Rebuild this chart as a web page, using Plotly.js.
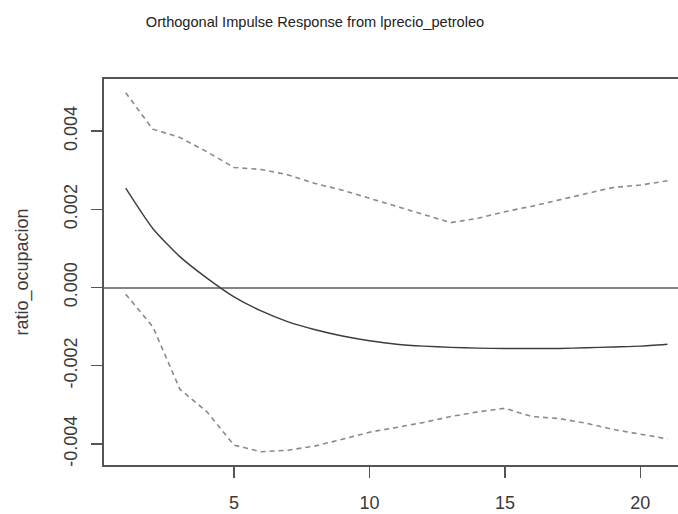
<!DOCTYPE html>
<html>
<head>
<meta charset="utf-8">
<script src="https://cdn.plot.ly/plotly-3.0.1.min.js"></script>
<style>html,body{margin:0;padding:0;background:#fff}#chart{width:678px;height:514px}</style>
</head>
<body>
<div id="chart"></div>
<script>
// Horizon (steps) of the impulse response
const horizon = [1,2,3,4,5,6,7,8,9,10,11,12,13,14,15,16,17,18,19,20,21];
// Orthogonal impulse response of ratio_ocupacion to lprecio_petroleo
const response = [0.00254,0.00151,0.00079,0.00024,-0.00024,-0.00060,-0.00088,-0.00108,-0.00124,-0.00136,-0.00145,-0.00150,-0.00153,-0.00155,-0.00156,-0.00156,-0.00156,-0.00154,-0.00152,-0.00150,-0.00145];
// Upper bootstrap confidence band
const upper = [0.00498,0.00405,0.00384,0.00347,0.00307,0.00302,0.00288,0.00266,0.00249,0.00228,0.00208,0.00187,0.00166,0.00177,0.00194,0.00208,0.00224,0.00239,0.00256,0.00262,0.00273];
// Lower bootstrap confidence band
const lower = [-0.00017,-0.00100,-0.00260,-0.00318,-0.00403,-0.00420,-0.00416,-0.00405,-0.00388,-0.00370,-0.00358,-0.00345,-0.00330,-0.00318,-0.00309,-0.00330,-0.00335,-0.00347,-0.00363,-0.00375,-0.00387];
const xTicks = [5,10,15,20];
const yTicks = [-0.004,-0.002,0,0.002,0.004];
const yTickText = ['-0.004','-0.002','0.000','0.002','0.004'];

const dashStyle = {color:'#8a8a8a', width:1.6, dash:'5px,4px'};
const traces = [
  {x:horizon, y:upper, type:'scatter', mode:'lines', name:'Upper', line:dashStyle, hoverinfo:'x+y'},
  {x:horizon, y:lower, type:'scatter', mode:'lines', name:'Lower', line:dashStyle, hoverinfo:'x+y'},
  {x:horizon, y:response, type:'scatter', mode:'lines', name:'ratio_ocupacion', line:{color:'#3c3c3c', width:1.4, shape:'spline', smoothing:0.6}, hoverinfo:'x+y'}
];
const tickFont = {family:'"Liberation Sans", Arial, sans-serif', size:18, color:'#3a3a3a'};
const layout = {
  width:678, height:514,
  margin:{l:104, r:0, t:79, b:49, pad:0},
  paper_bgcolor:'#ffffff', plot_bgcolor:'#ffffff',
  showlegend:false,
  title:{text:'Orthogonal Impulse Response from lprecio_petroleo',
    font:{family:'"Liberation Sans", Arial, sans-serif', size:14.6, color:'#222'},
    xref:'container', yref:'container', x:315/678, xanchor:'center', y:1-22/514, yanchor:'middle'},
  xaxis:{range:[0.2,21.39], tickvals:xTicks, ticktext:xTicks.map(String), ticks:'outside', ticklen:11, tickwidth:1.5, tickcolor:'#555',
    showline:true, linecolor:'#555', linewidth:1.6, mirror:true, showgrid:false, zeroline:false, tickfont:tickFont, ticklabelstandoff:10},
  yaxis:{range:[-0.004539,0.005333], tickvals:yTicks, ticktext:yTickText, ticks:'outside', ticklen:11, tickwidth:1.5, tickcolor:'#555',
    showline:true, linecolor:'#555', linewidth:1.6, mirror:false, showgrid:false,
    zeroline:true, zerolinecolor:'#858585', zerolinewidth:2, tickangle:-90, tickfont:tickFont, ticklabelstandoff:7,
    title:{text:'ratio_ocupacion', font:{family:'"Liberation Sans", Arial, sans-serif', size:18, color:'#3a3a3a'}, standoff:28}}
};
Plotly.newPlot('chart', traces, layout, {displayModeBar:false, staticPlot:true});
</script>
</body>
</html>
